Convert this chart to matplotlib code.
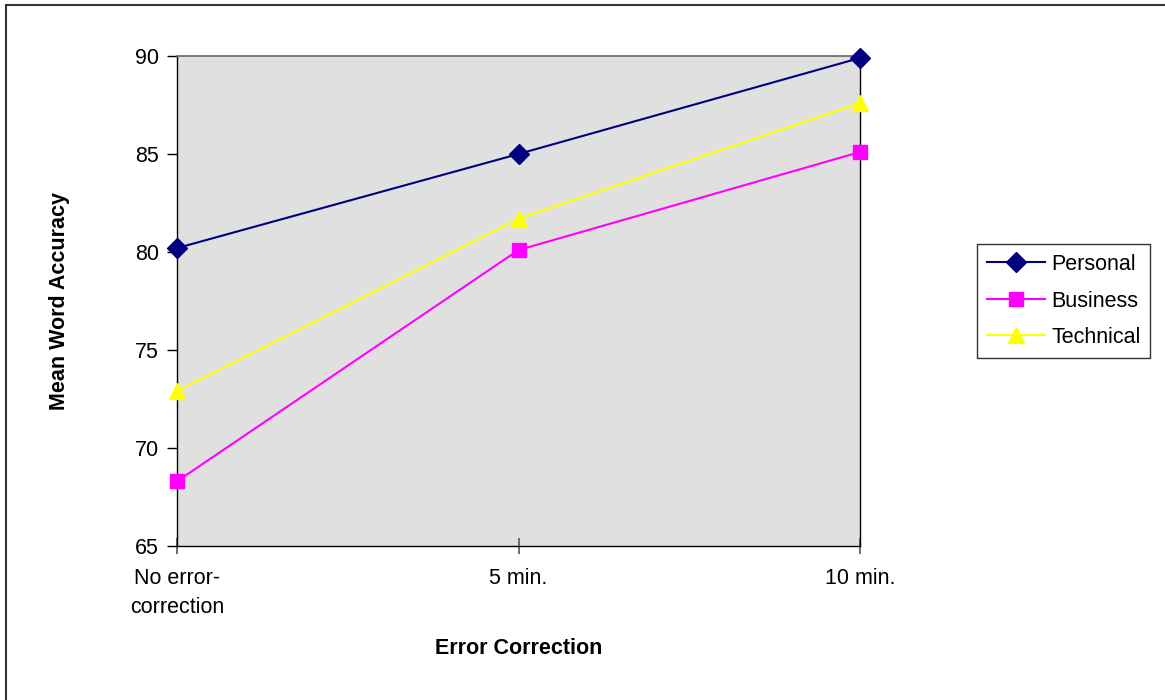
import matplotlib.pyplot as plt
from matplotlib.patches import Rectangle

plt.rcParams['font.family'] = ['Liberation Sans', 'DejaVu Sans']

# mean word accuracy per error-correction time
conditions = ["No error-\ncorrection", "5 min.", "10 min."]
personal = [80.2, 85.0, 89.9]
business = [68.3, 80.1, 85.1]
technical = [72.9, 81.7, 87.6]

yticks = [65, 70, 75, 80, 85, 90]

fs = 15.5

fig = plt.figure(figsize=(11.65, 7.0), dpi=100)

# outer chart frame (runs off the right and bottom edges)
fig.patches.append(Rectangle((6 / 1165, -0.05), 1.2, 1 - 5 / 700 + 0.05,
                             transform=fig.transFigure, fill=False,
                             edgecolor='#333333', linewidth=1.5))

ax = fig.add_axes([177 / 1165, 154 / 700, 683 / 1165, 490 / 700])
ax.set_facecolor('#E0E0E0')

x = range(len(conditions))
ax.plot(x, personal, color='#000080', marker='D', markersize=10,
        linewidth=1.5, label='Personal', clip_on=False, zorder=5)
ax.plot(x, business, color='#FF00FF', marker='s', markersize=10,
        linewidth=1.5, label='Business', clip_on=False, zorder=4)
ax.plot(x, technical, color='#FFFF00', marker='^', markersize=12,
        linewidth=1.5, label='Technical', clip_on=False, zorder=3)

ax.set_xlim(0, 2)
ax.set_ylim(65, 90)
ax.set_yticks(yticks)
ax.set_xticks(list(x))
ax.set_xticklabels(conditions, linespacing=1.5)

ax.tick_params(axis='y', direction='out', length=7, width=1, labelsize=fs, pad=6)
ax.tick_params(axis='x', direction='inout', length=11, width=1.2,
               color='#555555', labelsize=fs, pad=10)

for side in ('left', 'bottom', 'right'):
    ax.spines[side].set_color('black')
    ax.spines[side].set_linewidth(1)
ax.spines['top'].set_color('#666666')
ax.spines['top'].set_linewidth(1.2)

ax.set_ylabel('Mean Word Accuracy', fontsize=fs, fontweight='bold', labelpad=47)
ax.set_xlabel('Error Correction', fontsize=fs, fontweight='bold', labelpad=15)

leg = ax.legend(loc='center left', bbox_to_anchor=(977 / 1165, 399 / 700),
                bbox_transform=fig.transFigure, fontsize=fs, frameon=True,
                fancybox=False, edgecolor='black', borderpad=0.45,
                handlelength=2.7, handletextpad=0.3, labelspacing=0.72,
                borderaxespad=0)
leg.get_frame().set_linewidth(1)

fig.savefig('out.png', dpi=100)
